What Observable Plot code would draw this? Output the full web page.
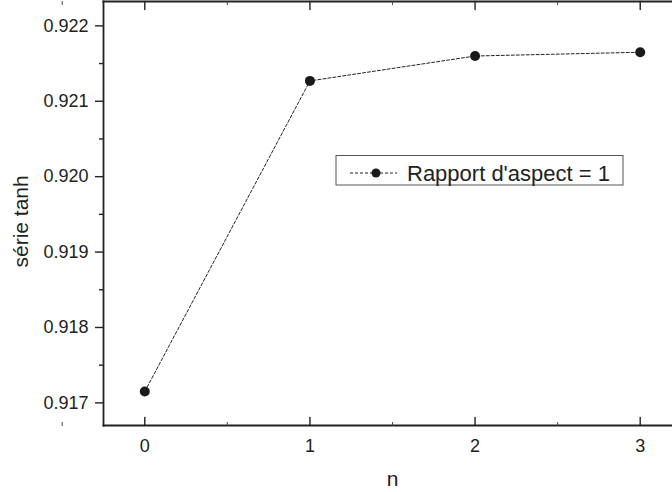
<!DOCTYPE html>
<html>
<head>
<meta charset="utf-8">
<script src="https://cdn.jsdelivr.net/npm/d3@7"></script>
<script src="https://cdn.jsdelivr.net/npm/@observablehq/plot@0.6"></script>
<style>
  html, body { margin: 0; padding: 0; background: #fff; }
  #chart { width: 672px; height: 492px; overflow: hidden; }
</style>
</head>
<body>
<div id="chart"></div>
<script>
const nValues = [0, 1, 2, 3];
const serieTanh = [0.91715, 0.92127, 0.92160, 0.92165];
const xTicks = [0, 1, 2, 3];
const xMinorTicks = [-0.5, 0.5, 1.5, 2.5];
const yTicks = [0.917, 0.918, 0.919, 0.920, 0.921, 0.922];
const yMinorTicks = [0.9175, 0.9185, 0.9195, 0.9205, 0.9215];
const seriesLabel = "Rapport d'aspect = 1";
const xLabel = "n";
const yLabel = "série tanh";

const data = nValues.map((n, i) => ({n, v: serieTanh[i]}));
const ink = "#222";
const tickShape = {draw(context, l) { context.moveTo(0, 0); context.lineTo(0, -l); }};

const chart = Plot.plot({
  width: 672,
  height: 492,
  marginLeft: 103,
  marginRight: -9,
  marginTop: 1,
  marginBottom: 67,
  style: {fontFamily: "'Liberation Sans', Arial, sans-serif", fontSize: "18px", color: ink, background: "#fff"},
  x: {domain: [-0.25, 3.25]},
  y: {domain: [0.9167, 0.922323]},
  marks: [
    Plot.frame({anchor: "left", stroke: "#222", strokeWidth: 1.8}),
    Plot.frame({anchor: "bottom", stroke: "#222", strokeWidth: 1.8}),
    Plot.frame({anchor: "top", stroke: "#222", strokeWidth: 2}),
    // left axis (outward ticks)
    Plot.axisY(yTicks, {anchor: "left", tickSize: 8, tickPadding: 7, tickFormat: d3.format(".3f"), label: null, stroke: "#222", strokeWidth: 1.4}),
    Plot.axisY(yMinorTicks, {anchor: "left", tickSize: 4, text: null, label: null, stroke: "#222", strokeWidth: 1.4}),
    // bottom axis labels
    Plot.axisX(xTicks, {anchor: "bottom", tickSize: 0, tickPadding: 14, tickFormat: d3.format("d"), label: null}),
    // bottom inward ticks
    Plot.vector(xTicks, {x: d => d, frameAnchor: "bottom", length: 8, rotate: 0, anchor: "start", shape: tickShape, stroke: "#222", strokeWidth: 1.4}),
    Plot.vector(xMinorTicks, {x: d => d, frameAnchor: "bottom", length: 3, rotate: 0, anchor: "start", shape: tickShape, stroke: "#444", strokeWidth: 1}),
    // top inward ticks
    Plot.vector(xTicks, {x: d => d, frameAnchor: "top", length: 8, rotate: 180, anchor: "start", shape: tickShape, stroke: "#222", strokeWidth: 1.4}),
    Plot.vector(xMinorTicks, {x: d => d, frameAnchor: "top", length: 3, rotate: 180, anchor: "start", shape: tickShape, stroke: "#444", strokeWidth: 1}),
    // axis titles
    Plot.text([xLabel], {frameAnchor: "bottom", dy: 60, fontSize: 21, fill: ink}),
    Plot.text([yLabel], {frameAnchor: "left", dx: -82, dy: 54, rotate: -90, fontSize: 21, fill: ink}),
    // data
    Plot.line(data, {x: "n", y: "v", stroke: "#222", strokeWidth: 1, strokeDasharray: "3,2"}),
    Plot.dot(data, {x: "n", y: "v", r: 5, fill: "#1a1a1a", stroke: "none"})
  ]
});

document.getElementById("chart").appendChild(chart);

// legend box inside the plot
const svg = d3.select(chart);
const lg = svg.append("g").attr("class", "legend").attr("text-anchor", "start");
lg.append("rect").attr("x", 336).attr("y", 155.5).attr("width", 287).attr("height", 29.5)
  .attr("fill", "#fff").attr("stroke", "#555").attr("stroke-width", 1);
lg.append("line").attr("x1", 350).attr("x2", 397).attr("y1", 173).attr("y2", 173)
  .attr("stroke", "#222").attr("stroke-width", 1).attr("stroke-dasharray", "3,2");
lg.append("circle").attr("cx", 376).attr("cy", 173).attr("r", 4.5).attr("fill", "#1a1a1a");
lg.append("text").attr("x", 407).attr("y", 181).attr("font-size", 22).attr("fill", ink)
  .attr("text-anchor", "start")
  .attr("font-family", "'Liberation Sans', Arial, sans-serif").text(seriesLabel);
</script>
</body>
</html>
